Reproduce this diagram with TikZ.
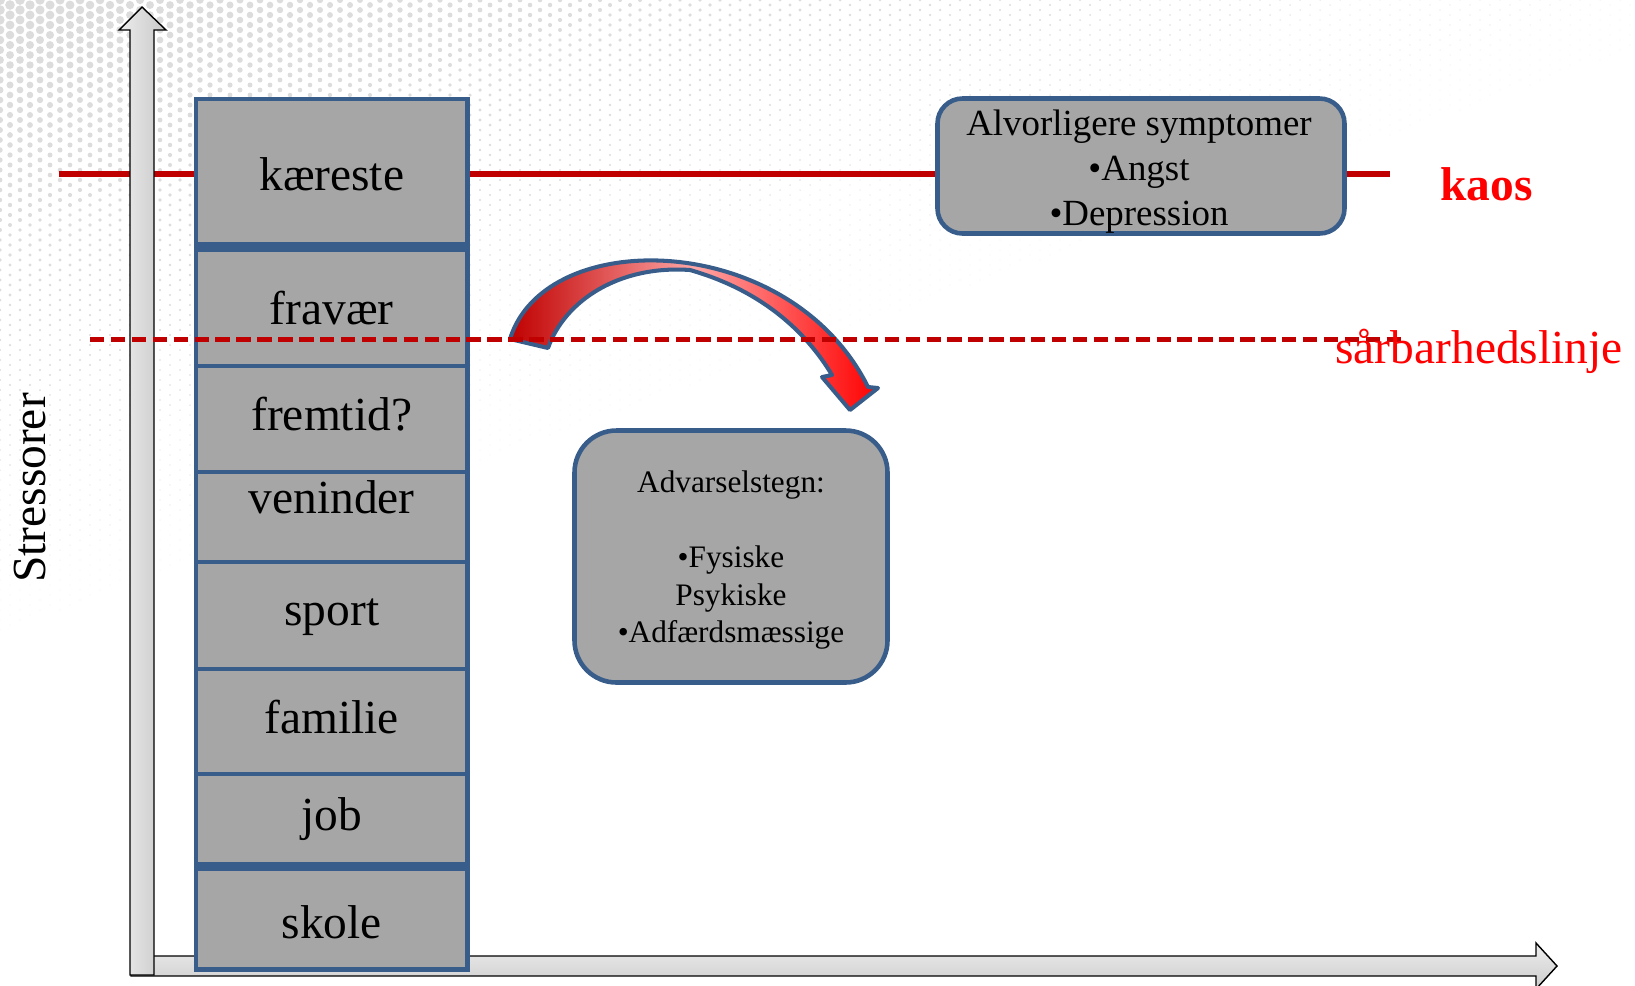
\documentclass[tikz,border=0pt]{standalone}
\usepackage{fontspec}
\setmainfont{Liberation Serif}
\usetikzlibrary{fit}

\definecolor{boxblue}{HTML}{385D8A}
\definecolor{boxgray}{HTML}{A6A6A6}
\definecolor{linered}{HTML}{C00000}
\definecolor{txtred}{HTML}{FF0000}
\definecolor{dotgray}{HTML}{DCDCDC}

\tikzset{
  stackbox/.style={draw=boxblue, fill=boxgray, line width=2.6pt, inner sep=0pt},
  stacklbl/.style={anchor=base, inner sep=0pt, font=\fontsize{27}{32}\selectfont},
  infobox/.style={draw=boxblue, fill=boxgray, line width=2.6pt, rounded corners=#1},
  blockarrow/.style={draw=black, line width=0.8pt},
  redline/.style={linered, line width=3.4pt},
}

\begin{document}
\begin{tikzpicture}[x=0.2mm, y=-0.2mm]
\useasboundingbox (0,0) rectangle (1635,985);
% halftone dots, top left
\foreach \i in {0,...,163}{
  \pgfmathsetmacro\xx{10*\i}
  \pgfmathsetmacro\yo{5*mod(\i,2)}
  \pgfmathtruncatemacro\nn{max(0,25*(2.526-\xx/700))}
  \foreach \j in {0,...,\nn}{
    \pgfmathsetmacro\yy{10*\j+\yo}
    \pgfmathsetmacro\rr{5*exp(-(\xx/700+\yy/250))}
    \ifdim\rr pt>0.4pt \fill[dotgray] (\xx,\yy) circle[radius=\rr];\fi
  }
}

% kaos line
\coordinate (kaosL) at (59,174);
\coordinate (kaosR) at (1390,174);
\draw[redline] (kaosL) -- (kaosR);

% axes
\shadedraw[blockarrow, top color=white!93!black, bottom color=white!80!black]
  (131,956) -- (1536,956) -- (1536,943) -- (1557,966) -- (1536,989)
  -- (1536,976) -- (131,976) -- cycle;
\shadedraw[blockarrow, left color=white!93!black, right color=white!78!black]
  (130,975) -- (130,30) -- (119,30) -- (142,7) -- (166,30) -- (154,30)
  -- (154,975) -- cycle;

% stressor stack
\foreach \nm/\ya/\yb/\yl/\txt in {kaereste/99/244.5/190/kæreste,
    fravaer/249.5/366/324/fravær, fremtid/366/472/430/fremtid?,
    veninder/472/562/513/veninder, sport/562/669/625/sport,
    familie/669/774/733/familie, job/774/864/830/job,
    skole/868.5/969.5/938/skole}{
  \node[stackbox, fit={(196,\ya) (467.5,\yb)}] (\nm box) {};
  \node[stacklbl] (\nm) at (331.75,\yl) {\txt};
}

% symptoms
\node[infobox=0.5cm, minimum width=8.14cm, minimum height=2.7cm] (sympbox) at (1141,166) {};
\node[inner sep=0pt, align=center, font=\fontsize{21}{25.6}\selectfont] (symp)
  at (1139,171.5) {Alvorligere symptomer\\•Angst\\•Depression};

% curved arrow
\shadedraw[draw=boxblue, line width=2.3pt, line join=round,
    left color=linered, right color=txtred, middle color=red!35!white]
  (510,339) .. controls (545,225) and (790,230) .. (868,387) -- (878,388)
  -- (850,410) -- (822,377) -- (832,375)
  .. controls (805,330) and (760,290) .. (690,270)
  .. controls (620,265) and (565,300) .. (548,348) -- cycle;

% warning signs
\node[infobox=0.84cm, minimum width=6.26cm, minimum height=5.04cm] (warnbox) at (731,556.5) {};
\node[inner sep=0pt, align=center, font=\fontsize{17.8}{21.3}\selectfont] (warn)
  at (731,560.2) {Advarselstegn:\\[21.3pt]•Fysiske\\Psykiske\\•Adfærdsmæssige};

% vulnerability line
\coordinate (sarbL) at (90,339.5);
\coordinate (sarbR) at (1405,339.5);
\draw[linered, line width=3.1pt, dash pattern=on 8.2pt off 3.7pt] (sarbL) -- (sarbR);

\node[anchor=base west, inner sep=0pt, text=txtred,
  font=\fontsize{27}{32}\selectfont\bfseries] (kaos) at (1440,200) {kaos};
\node[anchor=base west, inner sep=0pt, text=txtred,
  font=\fontsize{27}{32}\selectfont] (sarb) at (1335,363) {sårbarhedslinje};
\node[rotate=90, anchor=base, inner sep=0pt,
  font=\fontsize{27}{32}\selectfont] (stress) at (45,488) {Stressorer};
\end{tikzpicture}
\end{document}
